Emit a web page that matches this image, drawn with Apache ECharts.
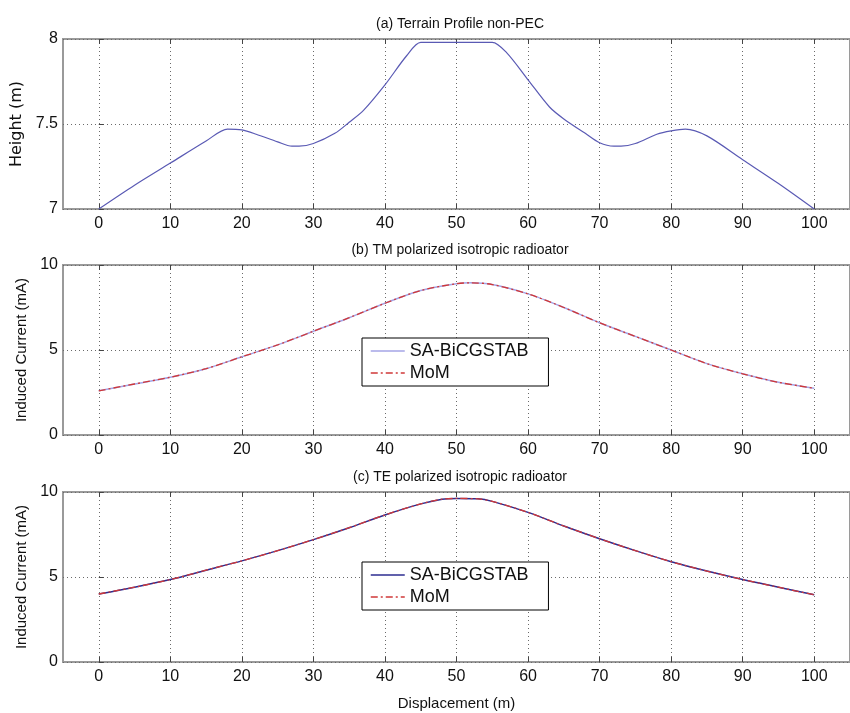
<!DOCTYPE html>
<html>
<head>
<meta charset="utf-8">
<title>Terrain profile and induced current</title>
<script src="https://cdn.jsdelivr.net/npm/echarts@6/dist/echarts.min.js"></script>
<style>
  html, body { margin: 0; padding: 0; background: #fff; }
  #chart { width: 850px; height: 713px; }
</style>
</head>
<body>
<div id="chart"></div>
<script>
// Displacement ticks shared by all three panels
const xTicks = [0, 10, 20, 30, 40, 50, 60, 70, 80, 90, 100];

// (a) terrain height along the path
const terrainX = [0, 5, 10, 15, 18, 20, 22, 25, 27, 28, 30, 33, 35, 37, 40, 43, 45, 47, 50, 53, 55, 57, 60, 63, 65, 68, 70, 72, 73, 75, 78, 80, 82, 85, 90, 95, 100];
const terrainH = [7.0, 7.14, 7.27, 7.40, 7.47, 7.465, 7.44, 7.395, 7.37, 7.37, 7.385, 7.445, 7.51, 7.58, 7.73, 7.90, 7.98, 7.98, 7.98, 7.98, 7.98, 7.92, 7.76, 7.60, 7.53, 7.445, 7.39, 7.37, 7.37, 7.385, 7.44, 7.46, 7.47, 7.43, 7.29, 7.15, 7.0];

// (b) TM polarized source: induced current (mA)
const tmX = [0, 5, 10, 15, 20, 25, 30, 35, 40, 45, 50, 52, 55, 60, 65, 70, 75, 80, 85, 90, 95, 100];
const tmBicg = [2.6, 3.0, 3.4, 3.9, 4.6, 5.3, 6.1, 6.9, 7.75, 8.5, 8.9, 8.95, 8.85, 8.3, 7.5, 6.6, 5.8, 5.0, 4.2, 3.6, 3.1, 2.75];
const tmMom  = [2.6, 3.0, 3.4, 3.9, 4.6, 5.3, 6.1, 6.9, 7.75, 8.5, 8.9, 8.95, 8.85, 8.3, 7.5, 6.6, 5.8, 5.0, 4.2, 3.6, 3.1, 2.75];

// (c) TE polarized source: induced current (mA)
const teX = [0, 5, 10, 15, 20, 25, 30, 35, 40, 45, 48, 50, 53, 55, 60, 65, 70, 75, 80, 85, 90, 95, 100];
const teBicg = [4.0, 4.4, 4.85, 5.4, 5.95, 6.55, 7.2, 7.9, 8.65, 9.3, 9.58, 9.62, 9.6, 9.45, 8.8, 8.0, 7.25, 6.55, 5.9, 5.35, 4.85, 4.4, 3.95];
const teMom  = [4.0, 4.4, 4.85, 5.4, 5.95, 6.55, 7.2, 7.9, 8.65, 9.3, 9.58, 9.62, 9.6, 9.45, 8.8, 8.0, 7.25, 6.55, 5.9, 5.35, 4.85, 4.4, 3.95];

const titles = ['(a) Terrain Profile non-PEC', '(b) TM polarized isotropic radioator', '(c) TE polarized isotropic radioator'];
const legendNames = ['SA-BiCGSTAB', 'MoM'];

const pairs = (xs, ys) => xs.map((x, i) => [x, ys[i]]);

const FONT = 'Liberation Sans, Arial, sans-serif';
const TEXT = '#111';
const FRAME = '#9a9a9a';
const dotted = { type: [1, 3], color: '#6a6a6a', width: 1 };
const dashDot = [7, 3, 2, 3];
const MOM_RED = '#d03838';

const panelTops = [39, 265, 492];
const panelHeight = 170;

const grids = panelTops.map(t => ({
  left: 63, right: -5, top: t, height: panelHeight,
  show: true, borderColor: FRAME, borderWidth: 2, backgroundColor: '#fff'
}));

const xAxes = [];
panelTops.forEach((t, i) => {
  xAxes.push({
    gridIndex: i, type: 'value', min: -5, max: 105,
    axisLine: { show: false },
    axisTick: { inside: true, length: 5, customValues: xTicks, lineStyle: { color: '#444', width: 1 } },
    axisLabel: { customValues: xTicks, fontFamily: FONT, fontSize: 16, color: TEXT, margin: 7 },
    splitLine: { show: true, lineStyle: dotted },
    name: i === 2 ? 'Displacement (m)' : '',
    nameLocation: 'middle', nameGap: 34,
    nameTextStyle: { fontFamily: FONT, fontSize: 15, color: TEXT }
  });
  xAxes.push({
    gridIndex: i, type: 'value', position: 'top', min: -5, max: 105,
    axisLine: { show: false },
    axisTick: { inside: true, length: 5, customValues: xTicks, lineStyle: { color: '#444', width: 1 } },
    axisLabel: { show: false },
    splitLine: { show: false }
  });
});

const yAxes = [
  { min: 7, max: 8, interval: 0.5, name: 'Height (m)', font: 'DejaVu Sans, sans-serif', size: 16, gap: 33 },
  { min: 0, max: 10, interval: 5, name: 'Induced Current (mA)', font: FONT, size: 15, gap: 34 },
  { min: 0, max: 10, interval: 5, name: 'Induced Current (mA)', font: FONT, size: 15, gap: 34 }
].map((a, i) => ({
  gridIndex: i, type: 'value', min: a.min, max: a.max, interval: a.interval,
  axisLine: { show: false },
  axisTick: { show: true, inside: true, length: 5, lineStyle: { color: '#444' } },
  axisLabel: { fontFamily: FONT, fontSize: 16, color: TEXT, margin: 5 },
  splitLine: { show: true, lineStyle: dotted },
  name: a.name, nameLocation: 'middle', nameGap: a.gap,
  nameTextStyle: { fontFamily: a.font, fontSize: a.size, color: TEXT }
}));

const lineSeries = (name, xi, yi, data, color, width, type) => ({
  name, type: 'line', xAxisIndex: xi, yAxisIndex: yi, data,
  showSymbol: false, symbol: 'none', smooth: 0.3,
  lineStyle: { color, width, type }, itemStyle: { color },
  animation: false, z: 3
});

// Legend entries show only the line sample (the marker is kept invisible)
const legendBox = (top, bicgColor) => ({
  left: 362, top, orient: 'vertical',
  itemWidth: 34, itemHeight: 12, itemGap: 4,
  padding: [4, 20, 4, 8],
  borderColor: '#000', borderWidth: 1, backgroundColor: '#fff',
  selectedMode: false,
  textStyle: { fontFamily: FONT, fontSize: 18, color: TEXT },
  data: [
    { name: legendNames[0], lineStyle: { color: bicgColor, width: 1.5, type: 'solid' }, itemStyle: { color: bicgColor, opacity: 0 } },
    { name: legendNames[1], lineStyle: { color: MOM_RED, width: 1.5, type: dashDot }, itemStyle: { color: MOM_RED, opacity: 0 } }
  ]
});

const option = {
  backgroundColor: '#fff',
  animation: false,
  title: titles.map((t, i) => ({
    text: t, left: 455, top: panelTops[i] - 27, textAlign: 'center',
    textStyle: { fontFamily: FONT, fontSize: 14, fontWeight: 'normal', color: TEXT }
  })),
  grid: grids,
  xAxis: xAxes,
  yAxis: yAxes,
  legend: [legendBox(338, '#a4a4e6'), legendBox(562, '#2c2c90')],
  series: [
    lineSeries('Terrain', 0, 0, pairs(terrainX, terrainH), '#5a5ab4', 1.2, 'solid'),
    lineSeries(legendNames[0], 2, 1, pairs(tmX, tmBicg), '#a4a4e6', 1.5, 'solid'),
    lineSeries(legendNames[1], 2, 1, pairs(tmX, tmMom), MOM_RED, 1.3, dashDot),
    lineSeries(legendNames[0], 4, 2, pairs(teX, teBicg), '#2c2c90', 1.5, 'solid'),
    lineSeries(legendNames[1], 4, 2, pairs(teX, teMom), MOM_RED, 1.3, dashDot)
  ]
};

const chart = echarts.init(document.getElementById('chart'), null, { renderer: 'canvas' });
chart.setOption(option);
</script>
</body>
</html>
